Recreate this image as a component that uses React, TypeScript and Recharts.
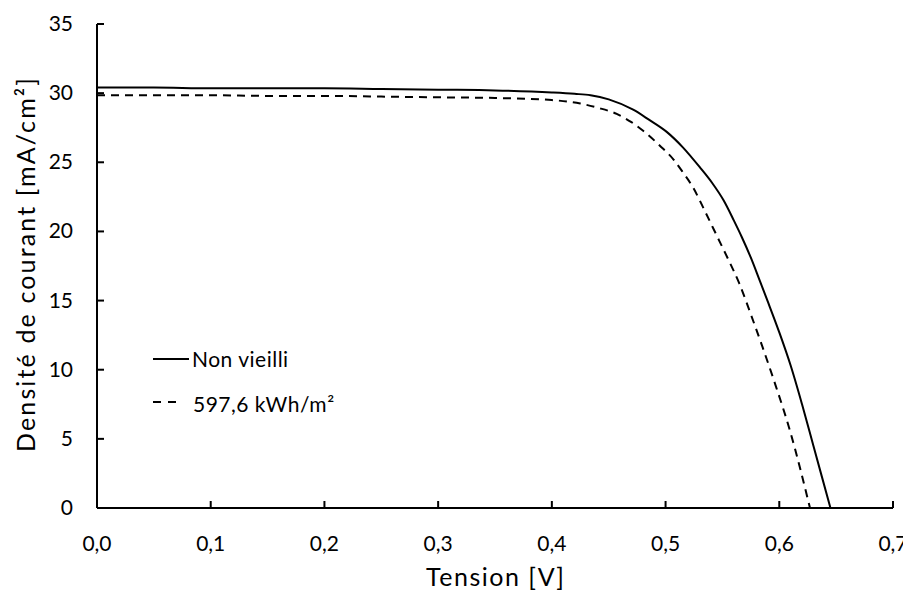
import { Legend, Line, LineChart, XAxis, YAxis } from "recharts";

// tension [V] / densité de courant [mA/cm²]
const vNonVieilli = [
  0, 0.05, 0.1, 0.15, 0.2, 0.25, 0.3, 0.35, 0.4, 0.42, 0.434, 0.45, 0.4715,
  0.485, 0.501, 0.515, 0.5305, 0.541, 0.551, 0.56, 0.567, 0.575, 0.583, 0.59,
  0.6, 0.61, 0.62, 0.63, 0.645,
];
const jNonVieilli = [
  30.4, 30.4, 30.35, 30.35, 30.35, 30.3, 30.25, 30.2, 30.05, 29.95, 29.85,
  29.55, 28.8, 28.1, 27.2, 26.1, 24.6, 23.5, 22.25, 20.8, 19.6, 18.1, 16.4,
  14.9, 12.7, 10.3, 7.5, 4.5, 0,
];

const vVieilli = [
  0, 0.05, 0.1, 0.15, 0.2, 0.25, 0.3, 0.35, 0.4, 0.425, 0.44, 0.457, 0.47,
  0.48, 0.495, 0.507, 0.515, 0.524, 0.535, 0.545, 0.555, 0.565, 0.575, 0.585,
  0.595, 0.6097, 0.627,
];
const jVieilli = [
  29.85, 29.85, 29.85, 29.8, 29.8, 29.75, 29.7, 29.65, 29.5, 29.25, 28.95,
  28.5, 27.9, 27.3, 26.2, 25.2, 24.3, 23.2, 21.4, 19.7, 18.0, 16.2, 14.0, 11.7,
  9.3, 5.5, 0,
];

const xTicks = [0, 0.1, 0.2, 0.3, 0.4, 0.5, 0.6, 0.7];
const yTicks = [0, 5, 10, 15, 20, 25, 30, 35];

const nonVieilli = vNonVieilli.map((v, i) => ({ v, j: jNonVieilli[i] }));
const vieilli = vVieilli.map((v, i) => ({ v, j: jVieilli[i] }));

const FONT = "Lato, 'Open Sans', sans-serif";
const fmt = (v: number) => v.toFixed(1).replace(".", ",");

function BottomTick({ x, y, payload }: any) {
  return (
    <g>
      <line x1={x} x2={x} y1={y} y2={y - 7} stroke="#000" strokeWidth={2} />
      <text x={x} y={y + 43} textAnchor="middle" fontSize={21} fontFamily={FONT} fill="#000">
        {fmt(payload.value)}
      </text>
    </g>
  );
}

function TopTick({ x, y }: any) {
  return <line x1={x} x2={x} y1={y} y2={y + 7} stroke="#000" strokeWidth={2} />;
}

function LeftTick({ x, y, payload }: any) {
  return (
    <g>
      <line x1={x} x2={x + 7} y1={y} y2={y} stroke="#000" strokeWidth={2} />
      <text x={x - 24} y={y + 7} textAnchor="end" fontSize={21} fontFamily={FONT} fill="#000">
        {payload.value}
      </text>
    </g>
  );
}

function RightTick({ x, y }: any) {
  return <line x1={x - 7} x2={x} y1={y} y2={y} stroke="#000" strokeWidth={2} />;
}

function LegendBox() {
  return (
    <svg width={240} height={80} style={{ fontFamily: FONT, display: "block", overflow: "visible" }}>
      <line x1={5} x2={41} y1={11} y2={11} stroke="#000" strokeWidth={2} />
      <text x={44} y={19} fontSize={21} fill="#000" letterSpacing={0.5}>
        Non vieilli
      </text>
      <line x1={5} x2={28} y1={54} y2={54} stroke="#000" strokeWidth={2} strokeDasharray="8 7" />
      <text x={45} y={64} fontSize={21} fill="#000" letterSpacing={0.5}>
        597,6 kWh/m²
      </text>
    </svg>
  );
}

export default function App() {
  return (
    <LineChart
      width={903}
      height={584}
      margin={{ top: 16, right: 18, bottom: 0, left: 0 }}
    >
      <XAxis
        dataKey="v"
        type="number"
        domain={[0, 0.7]}
        ticks={xTicks}
        height={84}
        tickSize={0}
        tickMargin={0}
        tickLine={false}
        axisLine={{ stroke: "#000", strokeWidth: 2 }}
        tick={BottomTick}
        label={({ viewBox }: any) => (
          <text
            x={viewBox.x + viewBox.width / 2}
            y={viewBox.y + 78}
            textAnchor="middle"
            fontSize={25}
            fontFamily={FONT}
            fill="#000"
            textLength={138}
            lengthAdjust="spacing"
          >
            Tension [V]
          </text>
        )}
      />
      <XAxis
        xAxisId="top"
        orientation="top"
        dataKey="v"
        type="number"
        domain={[0, 0.7]}
        ticks={xTicks}
        height={0}
        tickSize={0}
        tickMargin={0}
        tickLine={false}
        axisLine={{ stroke: "#000", strokeWidth: 2 }}
        tick={TopTick}
      />
      <YAxis
        type="number"
        domain={[0, 35]}
        ticks={yTicks}
        width={89}
        tickSize={0}
        tickMargin={0}
        tickLine={false}
        axisLine={{ stroke: "#000", strokeWidth: 2 }}
        tick={LeftTick}
        label={({ viewBox }: any) => {
          const cx = 17;
          const cy = viewBox.y + viewBox.height / 2 - 1;
          return (
            <text
              x={cx}
              y={cy}
              transform={`rotate(-90 ${cx} ${cy})`}
              textAnchor="middle"
              dominantBaseline="central"
              fontSize={25}
              fontFamily={FONT}
              fill="#000"
              textLength={374}
              lengthAdjust="spacing"
            >
              Densité de courant [mA/cm²]
            </text>
          );
        }}
      />
      <YAxis
        yAxisId="right"
        orientation="right"
        type="number"
        domain={[0, 35]}
        ticks={yTicks}
        width={0}
        tickSize={0}
        tickMargin={0}
        tickLine={false}
        axisLine={{ stroke: "#000", strokeWidth: 2 }}
        tick={RightTick}
      />
      <Line
        data={nonVieilli}
        dataKey="j"
        name="Non vieilli"
        type="monotone"
        stroke="#000"
        strokeWidth={2}
        dot={false}
        isAnimationActive={false}
      />
      <Line
        data={vieilli}
        dataKey="j"
        name="597,6 kWh/m²"
        type="monotone"
        stroke="#000"
        strokeWidth={2}
        strokeDasharray="8 6"
        dot={false}
        isAnimationActive={false}
      />
      <Legend
        layout="horizontal"
        verticalAlign="middle"
        align="center"
        content={LegendBox}
        wrapperStyle={{ left: 140, top: 340, width: 240, height: 80 }}
      />
    </LineChart>
  );
}
